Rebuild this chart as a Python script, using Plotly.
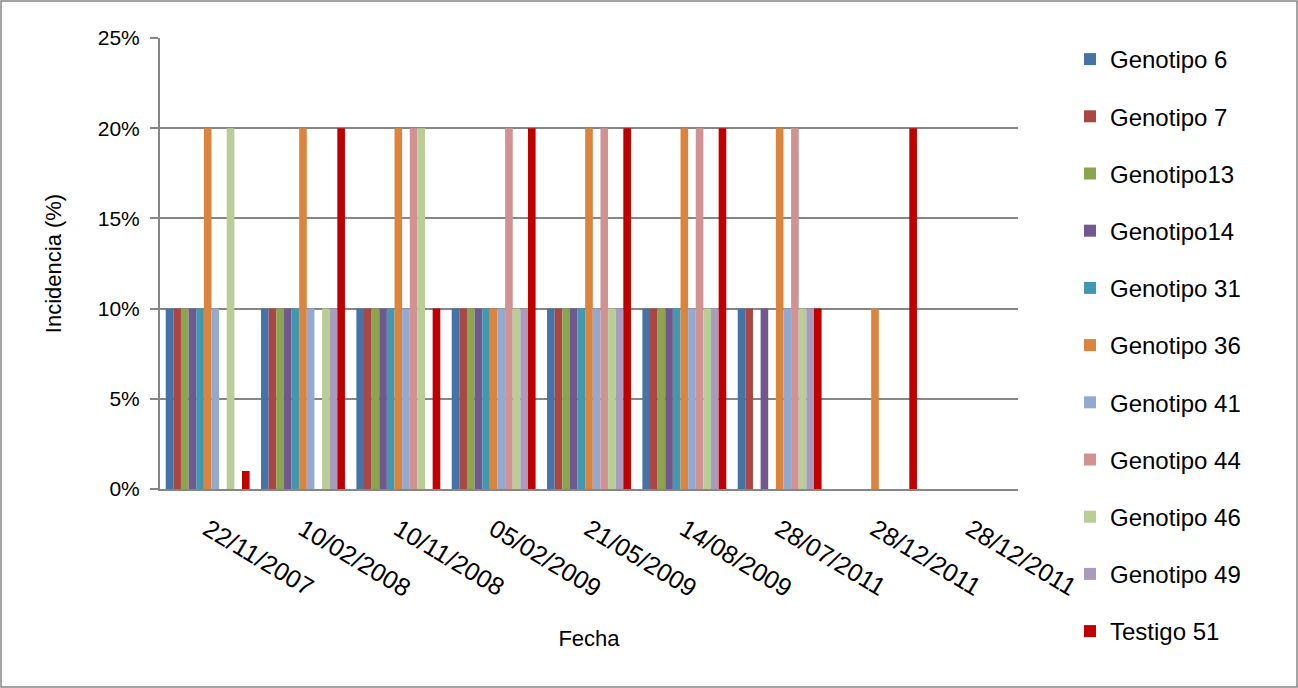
import plotly.graph_objects as go

fechas = ["22/11/2007", "10/02/2008", "10/11/2008", "05/02/2009", "21/05/2009",
          "14/08/2009", "28/07/2011", "28/12/2011", "28/12/2011"]

series_names = ["Genotipo 6", "Genotipo 7", "Genotipo13", "Genotipo14", "Genotipo 31",
                "Genotipo 36", "Genotipo 41", "Genotipo 44", "Genotipo 46", "Genotipo 49",
                "Testigo 51"]

genotipo_6 = [0.10, 0.10, 0.10, 0.10, 0.10, 0.10, 0.10, 0, 0]
genotipo_7 = [0.10, 0.10, 0.10, 0.10, 0.10, 0.10, 0.10, 0, 0]
genotipo_13 = [0.10, 0.10, 0.10, 0.10, 0.10, 0.10, 0, 0, 0]
genotipo_14 = [0.10, 0.10, 0.10, 0.10, 0.10, 0.10, 0.10, 0, 0]
genotipo_31 = [0.10, 0.10, 0.10, 0.10, 0.10, 0.10, 0, 0, 0]
genotipo_36 = [0.20, 0.20, 0.20, 0.10, 0.20, 0.20, 0.20, 0.10, 0]
genotipo_41 = [0.10, 0.10, 0.10, 0.10, 0.10, 0.10, 0.10, 0, 0]
genotipo_44 = [0, 0, 0.20, 0.20, 0.20, 0.20, 0.20, 0, 0]
genotipo_46 = [0.20, 0.10, 0.20, 0.10, 0.10, 0.10, 0.10, 0, 0]
genotipo_49 = [0, 0.10, 0, 0.10, 0.10, 0.10, 0.10, 0, 0]
testigo_51 = [0.01, 0.20, 0.10, 0.20, 0.20, 0.20, 0.10, 0.20, 0]

all_values = [genotipo_6, genotipo_7, genotipo_13, genotipo_14, genotipo_31, genotipo_36,
              genotipo_41, genotipo_44, genotipo_46, genotipo_49, testigo_51]

colors = ["#4572A7", "#AA4643", "#89A54E", "#71588F", "#4198AF", "#DB843D",
          "#93A9CF", "#D19392", "#B9CD96", "#A99BBD", "#C00000"]

y_ticks = [0, 0.05, 0.10, 0.15, 0.20, 0.25]

FONT = "Liberation Sans"
W, H = 1298, 688
L, R, T, B = 160, 280, 38, 199
pw, ph = W - L - R, H - T - B

x_pos = list(range(len(fechas)))

fig = go.Figure()
for i, (name, vals, col) in enumerate(zip(series_names, all_values, colors)):
    fig.add_trace(go.Bar(
        x=x_pos, y=vals, name=name, marker=dict(color=col, line=dict(width=0)),
        legendgroup=f"g{i}",
    ))

fig.update_layout(
    width=W, height=H,
    margin=dict(l=L, r=R, t=T, b=B),
    paper_bgcolor="white", plot_bgcolor="white",
    barmode="group", bargap=0.12, bargroupgap=0,
    font=dict(family=FONT, size=20, color="#000000"),
    showlegend=True,
    legend=dict(
        x=(1070 - L) / pw, xanchor="left",
        y=1 + (T - 37) / ph, yanchor="top",
        font=dict(family=FONT, size=24, color="#000000"),
        tracegroupgap=23,
        maxheight=700,
        bgcolor="rgba(0,0,0,0)",
    ),
    xaxis=dict(
        tickmode="array", tickvals=x_pos, ticktext=fechas,
        tickangle=31, range=[-0.5, len(fechas) - 0.5],
        showline=True, linecolor="#868686", linewidth=2,
        showgrid=False, ticks="", zeroline=False,
        ticklabelstandoff=14,
        tickfont=dict(family=FONT, size=25),
        title=dict(text="Fecha", font=dict(family=FONT, size=22), standoff=30),
    ),
    yaxis=dict(
        range=[0, 0.25], tickvals=y_ticks, tickformat=".0%",
        showline=True, linecolor="#868686", linewidth=2,
        showgrid=True, gridcolor="#868686", gridwidth=1.5,
        ticks="outside", ticklen=8, tickcolor="#868686", tickwidth=1.5,
        ticklabelstandoff=6,
        zeroline=False,
        tickfont=dict(family=FONT, size=21),
        title=dict(text="Incidencia (%)", font=dict(family=FONT, size=22), standoff=30),
    ),
)

fig.add_shape(
    type="rect", xref="paper", yref="paper",
    x0=-(L - 1) / pw, x1=1 + (R - 1) / pw, y0=-(B - 1) / ph, y1=1 + (T - 1) / ph,
    line=dict(color="#868686", width=1.5), fillcolor="rgba(0,0,0,0)", layer="below",
)

fig.write_html("out.html", config={"displayModeBar": False})

with open("out.html", "r", encoding="utf-8") as f:
    html = f.read()
html = html.replace("<body>", '<body style="margin:0;padding:0;">', 1)
with open("out.html", "w", encoding="utf-8") as f:
    f.write(html)
